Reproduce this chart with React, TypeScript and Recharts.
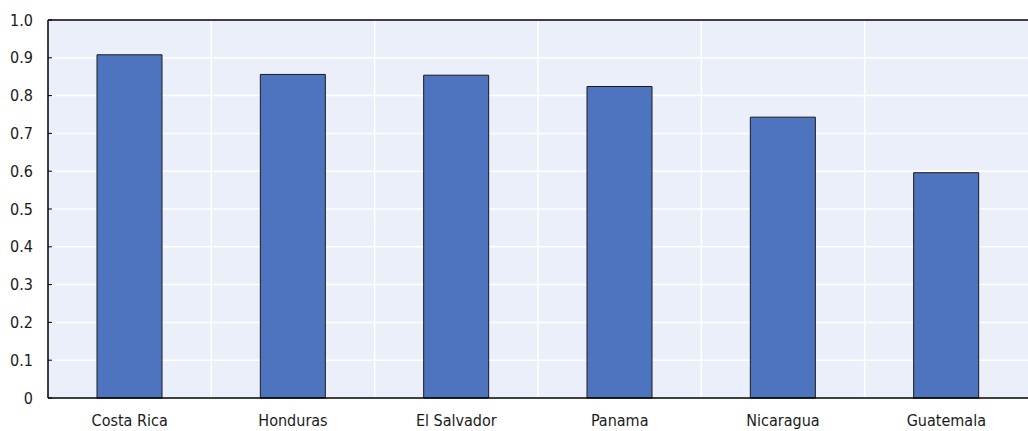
import { BarChart, Bar, XAxis, YAxis, CartesianGrid, ReferenceLine } from 'recharts';

const countries = ['Costa Rica', 'Honduras', 'El Salvador', 'Panama', 'Nicaragua', 'Guatemala'];
const values = [0.908, 0.856, 0.854, 0.824, 0.743, 0.596];
const yTicks = [0, 0.1, 0.2, 0.3, 0.4, 0.5, 0.6, 0.7, 0.8, 0.9, 1.0];

const data = countries.map((name, i) => ({ name, value: values[i] }));

const FONT = "'Liberation Sans Narrow', 'Arial Narrow', 'DejaVu Sans Condensed', sans-serif";
const TEXT = '#1a1a1a';

// vertical grid lines sit between categories, not on the category centres
function boundaries({ offset }: any) {
    const n = countries.length;
    const pts: number[] = [];
    for (let i = 1; i < n; i++) pts.push(offset.left + (offset.width * i) / n);
    return pts;
}

export default function App() {
    return (
        <div style={{ position: 'absolute', left: 0, top: 0, width: 1028, height: 431, background: '#fff', overflow: 'hidden' }}>
            <BarChart width={1028} height={431} data={data} margin={{ top: 20, right: 0, left: 0, bottom: 0 }} barCategoryGap="30%" style={{ overflow: 'visible' }}>
                <CartesianGrid fill="#eaeff9" stroke="#ffffff" strokeWidth={1.5} verticalCoordinatesGenerator={boundaries} />
                <XAxis
                    dataKey="name"
                    height={33}
                    tickLine={false}
                    tickSize={0}
                    tickMargin={17}
                    axisLine={{ stroke: '#000', strokeWidth: 1.5 }}
                    tick={{ fill: TEXT, fontSize: 16, fontFamily: FONT }}
                />
                <YAxis
                    width={48}
                    domain={[0, 1]}
                    ticks={yTicks}
                    interval={0}
                    tickFormatter={(v) => (v === 0 ? '0' : v.toFixed(1))}
                    tickSize={-4}
                    tickMargin={19}
                    tickLine={{ stroke: '#000' }}
                    axisLine={{ stroke: '#000', strokeWidth: 1.5 }}
                    tick={{ fill: TEXT, fontSize: 16, fontFamily: FONT }}
                />
                <ReferenceLine y={1} stroke="#000" strokeWidth={1.5} />
                <Bar dataKey="value" fill="#4e74bf" stroke="#1a1a1a" strokeWidth={1} isAnimationActive={false} />
            </BarChart>
        </div>
    );
}
